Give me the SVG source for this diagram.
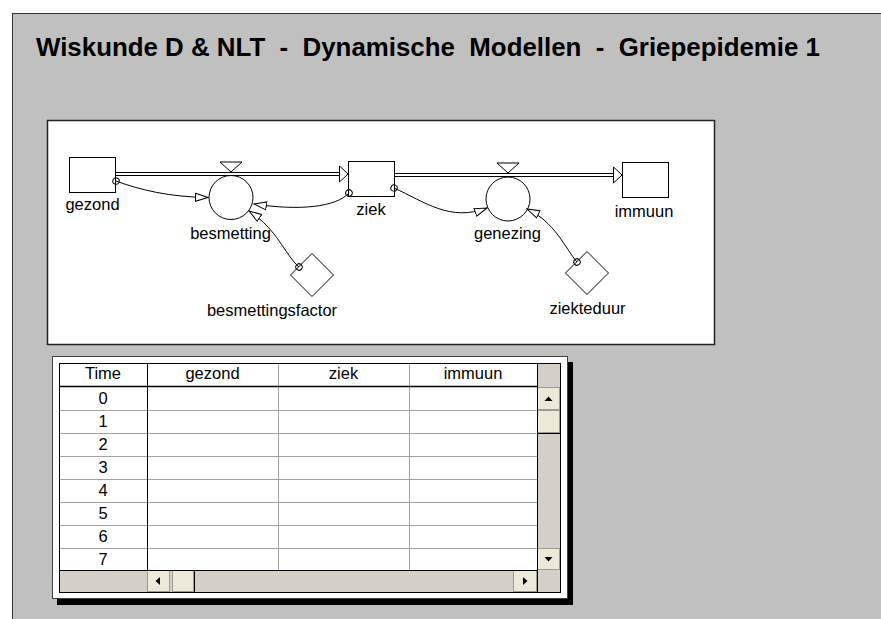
<svg xmlns="http://www.w3.org/2000/svg" width="881" height="619" viewBox="0 0 881 619">
  <style>
    text { font-family: "Liberation Sans", Arial, sans-serif; fill: #000; }
    .title { font-size: 25.8px; font-weight: bold; }
    .lbl { font-size: 16.5px; text-anchor: middle; }
    .cell { font-size: 16.5px; text-anchor: middle; }
    .box { fill: #fff; stroke: #000; stroke-width: 1; }
    .pipe { fill: none; stroke: #000; stroke-width: 1; }
    .flowhead { fill: #fff; stroke: #000; stroke-width: 1; }
    .link { fill: none; stroke: #000; stroke-width: 1; marker-start: url(#link-tail); marker-end: url(#link-head); }
    .grid-light { stroke: #a0a0a0; stroke-width: 1; }
    .grid-dark { stroke: #000; stroke-width: 1; }
    .sbar { fill: #d4d0c8; }
    .btn { fill: #ece9d8; stroke: #9d9a8f; stroke-width: 1; }
    .glyph { fill: #000; }
  </style>
  <defs>
    <marker id="link-head" markerUnits="userSpaceOnUse" viewBox="0 0 14 10" refX="13" refY="5" markerWidth="14" markerHeight="10" orient="auto">
      <path d="M0.5,1 L13,5 L0.5,9 Z" fill="#fff" stroke="#000" stroke-width="1"/>
    </marker>
    <marker id="link-tail" markerUnits="userSpaceOnUse" viewBox="0 0 10 10" refX="5" refY="5" markerWidth="10" markerHeight="10" orient="auto">
      <circle cx="5" cy="5" r="3.2" fill="none" stroke="#000" stroke-width="1"/>
    </marker>
  </defs>

  <!-- page background and grey work area -->
  <rect x="0" y="0" width="881" height="619" fill="#fff"/>
  <rect x="12.5" y="13.5" width="880" height="620" fill="#c0c0c0" stroke="#333" stroke-width="1"/>

  <text class="title" x="36" y="56" textLength="784" lengthAdjust="spacingAndGlyphs" xml:space="preserve">Wiskunde D &amp; NLT  -  Dynamische  Modellen  -  Griepepidemie 1</text>

  <!-- model canvas -->
  <rect x="47.5" y="120.5" width="667" height="224" fill="#fff" stroke="#222" stroke-width="1.5"/>

  <g id="gezond">
    <rect class="box" x="69.5" y="157.5" width="46" height="35"/>
    <text class="lbl" x="92.5" y="210">gezond</text>
  </g>
  <g id="ziek">
    <rect class="box" x="348.5" y="161.5" width="46" height="35"/>
    <text class="lbl" x="371" y="214.5">ziek</text>
  </g>
  <g id="immuun">
    <rect class="box" x="622.5" y="162.5" width="46" height="35"/>
    <text class="lbl" x="644" y="216.5">immuun</text>
  </g>
  <g id="besmetting">
    <polygon class="box" points="220,162 242,162 231,172"/>
    <circle class="box" cx="231" cy="197.5" r="22"/>
    <text class="lbl" x="230.5" y="239">besmetting</text>
  </g>
  <g id="genezing">
    <polygon class="box" points="497,163 519,163 508,173"/>
    <circle class="box" cx="508" cy="199" r="22"/>
    <text class="lbl" x="507.5" y="238.5">genezing</text>
  </g>
  <g id="besmettingsfactor">
    <polygon class="box" points="312,253.5 333.5,275 312,296.5 290.5,275"/>
    <text class="lbl" x="272" y="316">besmettingsfactor</text>
  </g>
  <g id="ziekteduur">
    <polygon class="box" points="587,251.5 608.5,273 587,294.5 565.5,273"/>
    <text class="lbl" x="587.5" y="314">ziekteduur</text>
  </g>

  <!-- flows and information links, drawn over the nodes -->
  <g id="connectors">
    <!-- flow gezond -> ziek -->
    <line class="pipe" x1="115.5" y1="172.5" x2="340" y2="172.5"/>
    <line class="pipe" x1="115.5" y1="175.5" x2="340" y2="175.5"/>
    <polygon class="flowhead" points="339.5,166 348,174 339.5,182"/>
    <!-- flow ziek -> immuun -->
    <line class="pipe" x1="394.5" y1="173.5" x2="614" y2="173.5"/>
    <line class="pipe" x1="394.5" y1="176.5" x2="614" y2="176.5"/>
    <polygon class="flowhead" points="613.5,167 622,175 613.5,183"/>

    <path class="link" d="M116,181 C140,190 170,197 208,197.5"/>
    <path class="link" d="M349,193 C336,207 300,211 254,204"/>
    <path class="link" d="M299,267 C285,255 278,230 249,211"/>
    <path class="link" d="M394,188 C425,202 450,222 487,208"/>
    <path class="link" d="M577,262 C565,248 555,222 527,209"/>
  </g>

  <!-- table window -->
  <g id="table">
    <rect x="57" y="362" width="516" height="243" fill="#000"/>
    <rect x="52.5" y="356.5" width="515" height="242" fill="#fff" stroke="#404040" stroke-width="1"/>

    <!-- cells -->
    <rect x="59" y="363" width="478" height="207" fill="#fff"/>

    <!-- row rules -->
    <g class="grid-light">
      <line x1="59" y1="410.5" x2="537" y2="410.5"/>
      <line x1="59" y1="433.5" x2="537" y2="433.5"/>
      <line x1="59" y1="456.5" x2="537" y2="456.5"/>
      <line x1="59" y1="479.5" x2="537" y2="479.5"/>
      <line x1="59" y1="502.5" x2="537" y2="502.5"/>
      <line x1="59" y1="525.5" x2="537" y2="525.5"/>
      <line x1="59" y1="548.5" x2="537" y2="548.5"/>
      <line x1="278.5" y1="363" x2="278.5" y2="570"/>
      <line x1="409.5" y1="363" x2="409.5" y2="570"/>
    </g>

    <!-- scrollbars -->
    <rect class="sbar" x="537" y="363" width="23" height="229"/>
    <rect class="sbar" x="59" y="570" width="478" height="22"/>
    <rect class="btn" x="537.5" y="387.5" width="22" height="22"/>
    <polygon class="glyph" points="544.5,401 552.5,401 548.5,396.5"/>
    <rect class="btn" x="537.5" y="410.5" width="22" height="22"/>
    <line class="grid-dark" x1="537" y1="433.5" x2="560" y2="433.5"/>
    <rect class="btn" x="537.5" y="548.5" width="22" height="21"/>
    <polygon class="glyph" points="544.5,557 552.5,557 548.5,561.5"/>
    <rect class="btn" x="147.5" y="570.5" width="22" height="21"/>
    <polygon class="glyph" points="160,577 160,585 155.5,581"/>
    <rect class="btn" x="172.5" y="570.5" width="21" height="21"/>
    <line class="grid-dark" x1="194.5" y1="570" x2="194.5" y2="592"/>
    <rect class="btn" x="513.5" y="570.5" width="23" height="21"/>
    <polygon class="glyph" points="523,577 523,585 527.5,581"/>

    <!-- frame lines -->
    <g class="grid-dark">
      <line x1="59" y1="386.5" x2="537" y2="386.5" stroke-width="1.5"/>
      <line x1="147.5" y1="363" x2="147.5" y2="570"/>
      <line x1="537.5" y1="363" x2="537.5" y2="592"/>
      <line x1="59" y1="570.5" x2="537" y2="570.5"/>
      <rect x="59.5" y="363.5" width="501" height="229" fill="none"/>
    </g>

    <!-- header -->
    <text class="cell" x="103" y="379">Time</text>
    <text class="cell" x="212.5" y="379">gezond</text>
    <text class="cell" x="343.5" y="379">ziek</text>
    <text class="cell" x="473" y="379">immuun</text>

    <!-- time column -->
    <text class="cell" x="103" y="404">0</text>
    <text class="cell" x="103" y="427">1</text>
    <text class="cell" x="103" y="450">2</text>
    <text class="cell" x="103" y="473">3</text>
    <text class="cell" x="103" y="496">4</text>
    <text class="cell" x="103" y="519">5</text>
    <text class="cell" x="103" y="542">6</text>
    <text class="cell" x="103" y="565">7</text>
  </g>
</svg>
